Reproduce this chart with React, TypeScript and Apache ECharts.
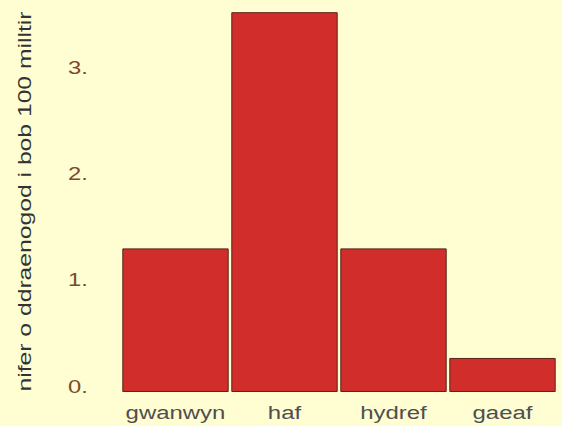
import React, { useEffect, useRef } from "react";
import * as echarts from "echarts";

const categories = ["gwanwyn", "haf", "hydref", "gaeaf"];
const values = [1.35, 3.57, 1.35, 0.32];
const yTickValues = [0, 1, 2, 3];
const yTickLabels = ["0.", "1.", "2.", "3."];
const yAxisTitle = "nifer o ddraenogod i bob 100 milltir";

const FONT = "Liberation Sans, Arial, Helvetica, sans-serif";

export default function App() {
  const ref = useRef<HTMLDivElement>(null);
  useEffect(() => {
    if (!ref.current) return;
    const chart = echarts.init(ref.current, null, { renderer: "svg" });
    chart.setOption({
      animation: false,
      backgroundColor: "#FFFDD2",
      grid: { left: 121, right: 5, top: 9, bottom: 34 },
      xAxis: {
        type: "category",
        data: categories,
        axisLine: { show: false },
        axisTick: { show: false },
        axisLabel: { show: false },
      },
      yAxis: {
        type: "value",
        min: 0,
        max: 3.6,
        interval: 1,
        splitLine: { show: false },
        axisLine: { show: false },
        axisTick: { show: false },
        axisLabel: { show: false },
      },
      series: [
        {
          type: "bar",
          data: values,
          barCategoryGap: "2.4%",
          itemStyle: {
            color: "#D12D2B",
            borderColor: "#5A2418",
            borderWidth: 1,
          },
        },
      ],
    });

    const graphics: any[] = [];
    const baseY = chart.convertToPixel({ yAxisIndex: 0 }, 0) as number;
    categories.forEach((c) => {
      const px = chart.convertToPixel({ xAxisIndex: 0 }, c) as number;
      graphics.push({
        type: "text",
        x: px,
        y: baseY + 20,
        scaleX: 1.26,
        silent: true,
        style: {
          text: c,
          fill: "#4F4F4F",
          font: `19px ${FONT}`,
          align: "center",
          verticalAlign: "middle",
        },
      });
    });
    yTickValues.forEach((v, i) => {
      const py = chart.convertToPixel({ yAxisIndex: 0 }, v) as number;
      graphics.push({
        type: "text",
        x: 78,
        y: py + 4,
        scaleX: 1.25,
        silent: true,
        style: {
          text: yTickLabels[i],
          fill: "#7A4B2A",
          font: `19px ${FONT}`,
          align: "center",
          verticalAlign: "bottom",
        },
      });
    });
    const topY = chart.convertToPixel({ yAxisIndex: 0 }, 3.6) as number;
    graphics.push({
      type: "text",
      x: 25,
      y: (baseY + topY) / 2 + 1,
      rotation: Math.PI / 2,
      scaleX: 1.3,
      silent: true,
      style: {
        text: yAxisTitle,
        fill: "#333333",
        font: `19px ${FONT}`,
        align: "center",
        verticalAlign: "middle",
      },
    });
    chart.setOption({ graphic: graphics });

    return () => chart.dispose();
  }, []);
  return <div ref={ref} style={{ width: 562, height: 426, position: "fixed", left: 0, top: 0 }} />;
}
